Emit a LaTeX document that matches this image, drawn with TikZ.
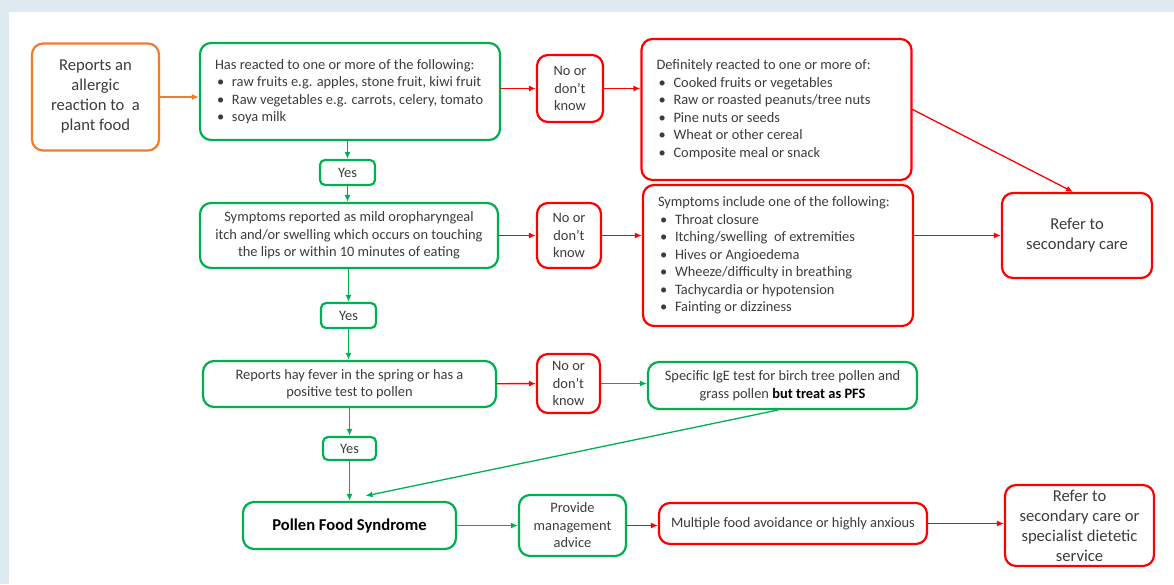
\documentclass[tikz,border=0pt]{standalone}
\usepackage{fontspec}
\setmainfont{Carlito}
\usetikzlibrary{arrows.meta,calc,positioning}
\definecolor{pgreen}{RGB}{0,176,80}
\definecolor{pred}{RGB}{255,0,0}
\definecolor{porange}{RGB}{237,125,49}
\definecolor{ptext}{RGB}{60,60,60}
\definecolor{pback}{RGB}{222,233,240}
\newcommand{\itm}[1]{\makebox[17pt][l]{\hspace{2pt}\textbullet}#1}
\newcommand{\smtxt}{\fontsize{14.4}{17.5}\selectfont}
\newcommand{\bgtxt}{\fontsize{16.6}{20}\selectfont}

\begin{document}
\begin{tikzpicture}[x=1pt, y=-1pt, line join=round, line cap=round,
		box/.style={line width=2.2pt, rounded corners=11pt, fill=white, text=ptext, font=\smtxt, align=center, inner sep=0pt},
		gbox/.style={box, draw=pgreen},
		rbox/.style={box, draw=pred},
		ybox/.style={gbox, rounded corners=5pt, minimum width=55, minimum height=25},
		garr/.style={draw=pgreen, line width=1.3pt, -{Latex[length=7pt,width=6pt]}},
		rarr/.style={draw=pred, line width=1.3pt, -{Latex[length=7pt,width=6pt]}}]
				\fill[pback] (0,0) rectangle (1174,584);
				\fill[white] (9,12) rectangle (1174,584);
				\useasboundingbox (0,0) rectangle (1174,584);
				\node[box, draw=porange, minimum width=127, minimum height=107, font=\bgtxt] (rep) at (95.5,97) {Reports an\\allergic\\reaction to\ \ a\\plant food};
				\node[gbox, minimum width=300, minimum height=97] (raw) at (350,91.5) {\parbox{270pt}{\raggedright Has reacted to one or more of the following:\\
						\itm{raw fruits e.g. apples, stone fruit, kiwi fruit}\\
						\itm{Raw vegetables e.g. carrots, celery, tomato}\\
						\itm{soya milk}}};
				\node[ybox] (y1) at (347.5,172.5) {Yes};
				\node[rbox, minimum width=66, minimum height=67] (no1) at (570,88.5) {No or\\don’t\\know};
				\node[rbox, minimum width=270, minimum height=141] (cook) at (776.5,109.5) {\parbox{240pt}{\raggedright Definitely reacted to one or more of:\\
						\itm{Cooked fruits or vegetables}\\
						\itm{Raw or roasted peanuts/tree nuts}\\
						\itm{Pine nuts or seeds}\\
						\itm{Wheat or other cereal}\\
						\itm{Composite meal or snack}}};
				\node[gbox, minimum width=298, minimum height=65] (mild) at (349,235.5) {Symptoms reported as mild oropharyngeal\\itch and/or swelling which occurs on touching\\the lips or within 10 minutes of eating};
				\node[rbox, minimum width=64, minimum height=65] (no2) at (569,235.5) {No or\\don’t\\know};
				\node[rbox, minimum width=270, minimum height=141] (sev) at (778,255.5) {\parbox{240pt}{\raggedright Symptoms include one of the following:\\
						\itm{Throat closure}\\
						\itm{Itching/swelling\ \ of extremities}\\
						\itm{Hives or Angioedema}\\
						\itm{Wheeze/difficulty in breathing}\\
						\itm{Tachycardia or hypotension}\\
						\itm{Fainting or dizziness}}};
				\node[rbox, minimum width=150, minimum height=85, font=\bgtxt] (ref1) at (1077,235.5) {Refer to\\secondary care};
				\node[ybox] (y2) at (348.5,315.5) {Yes};
				\node[gbox, minimum width=293, minimum height=46] (hay) at (349.5,384) {Reports hay fever in the spring or has a\\positive test to pollen};
				\node[rbox, minimum width=63, minimum height=59] (no3) at (568.5,383.5) {No or\\don’t\\know};
				\node[gbox, minimum width=269, minimum height=47] (ige) at (782.5,385.5) {Specific IgE test for birch tree pollen and\\grass pollen \textbf{\color{black}but treat as PFS}};
				\node[ybox, minimum width=53, minimum height=23] (y3) at (349.5,448.5) {Yes};
				\node[gbox, minimum width=213, minimum height=47, font=\bgtxt\bfseries, text=black] (pfs) at (349.5,525.5) {Pollen Food Syndrome};
				\node[gbox, minimum width=107, minimum height=61] (adv) at (572.5,525.5) {Provide\\management\\advice};
				\node[rbox, minimum width=268, minimum height=41] (mult) at (793,523.5) {Multiple food avoidance or highly anxious};
				\node[rbox, minimum width=149, minimum height=81, font=\bgtxt] (ref2) at (1079.5,525.5) {Refer to\\secondary care or\\specialist dietetic\\service};
				\draw[draw=porange, line width=1.3pt, -{Latex[length=7pt,width=6pt]}] (rep.east) -- (rep.east -| raw.west);
				\draw[rarr] (raw.east |- no1) -- (no1.west);
				\draw[rarr] (no1) -- (no1 -| cook.west);
				\draw[rarr] (cook.east) -- ($(ref1.north)+(-4,0)$);
				\draw[garr] (raw.south -| y1) -- (y1);
				\draw[garr] (y1) -- (y1 |- mild.north);
				\draw[rarr] (mild) -- (no2);
				\draw[rarr] (no2) -- (no2 -| sev.west);
				\draw[rarr] (sev.east |- ref1) -- (ref1);
				\draw[garr] (mild.south -| y2) -- (y2);
				\draw[garr] (y2) -- (y2 |- hay.north);
				\draw[rarr] (hay) -- (no3);
				\draw[garr] (no3) -- (no3 -| ige.west);
				\draw[garr] (hay.south -| y3) -- (y3);
				\draw[garr] (y3) -- (y3 |- pfs.north);
				\draw[garr] ($(ige.south)+(-5,0)$) -- ($(pfs.north)+(16,-5)$);
				\draw[garr] (pfs) -- (adv);
				\draw[rarr] (adv) -- (adv -| mult.west);
				\draw[rarr] (mult) -- (mult -| ref2.west);
		\end{tikzpicture}
\end{document}
